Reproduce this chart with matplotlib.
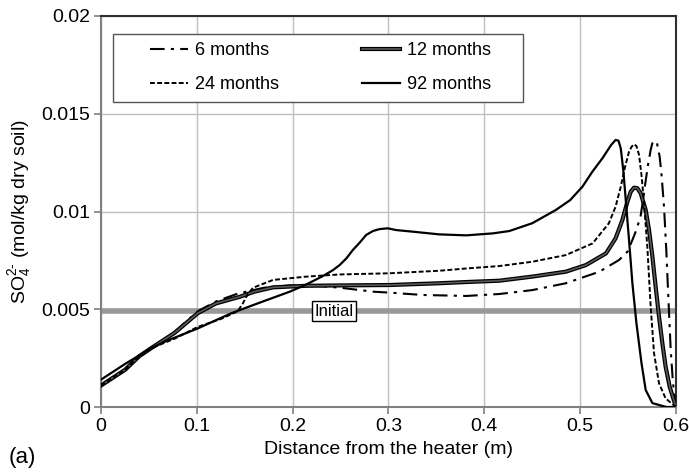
import matplotlib
matplotlib.use("Agg")
import matplotlib.pyplot as plt
import matplotlib.patheffects as pe
from matplotlib.patches import Rectangle

plt.rcParams['font.family'] = ['Liberation Sans', 'DejaVu Sans']
plt.rcParams['mathtext.fontset'] = 'custom'
plt.rcParams['mathtext.rm'] = 'Liberation Sans'
plt.rcParams['mathtext.it'] = 'Liberation Sans:italic'
plt.rcParams['mathtext.bf'] = 'Liberation Sans:bold'

x6 = [0, 0.025, 0.04, 0.052, 0.077, 0.101, 0.12, 0.1427, 0.17, 0.197, 0.225, 0.25, 0.2837, 0.301,
      0.3357, 0.3635, 0.381, 0.4156, 0.45, 0.485, 0.52, 0.5406, 0.5493, 0.5545, 0.558, 0.563, 0.5656,
      0.568, 0.5708, 0.5736, 0.5753, 0.5778, 0.5802, 0.583, 0.5851, 0.5875, 0.5899, 0.592, 0.5945,
      0.5969, 0.6]
y6 = [0.0011, 0.0019, 0.0026, 0.0030, 0.00385, 0.0049, 0.0054, 0.0058, 0.0061, 0.00622, 0.0062, 0.0061,
      0.0059, 0.00585, 0.00573, 0.0057, 0.00568, 0.00578, 0.00598, 0.00633, 0.00692, 0.00752, 0.00794,
      0.00854, 0.00897, 0.00973, 0.01059, 0.01144, 0.01238, 0.01315, 0.01349, 0.01362, 0.01349, 0.0128,
      0.01178, 0.01025, 0.00803, 0.00564, 0.00292, 0.00121, 0.0]

x12 = [0, 0.025, 0.04, 0.052, 0.077, 0.101, 0.12, 0.145, 0.16, 0.1795, 0.2143, 0.25, 0.301, 0.353,
       0.3846, 0.4156, 0.45, 0.485, 0.506, 0.527, 0.537, 0.5441, 0.5493, 0.5528, 0.5562, 0.5597,
       0.5632, 0.5684, 0.5719, 0.5754, 0.5788, 0.5823, 0.5858, 0.5892, 0.5934, 0.6]
y12 = [0.0011, 0.0019, 0.0026, 0.0030, 0.0038, 0.0048, 0.0053, 0.00564, 0.0059, 0.00612, 0.0062,
       0.00622, 0.00624, 0.00633, 0.0064, 0.00646, 0.00667, 0.00692, 0.00726, 0.00786, 0.00863, 0.00957,
       0.0105, 0.01101, 0.01122, 0.01119, 0.01093, 0.01008, 0.00905, 0.00769, 0.00615, 0.00462, 0.00326,
       0.00206, 0.00104, 0.0]

x24 = [0, 0.025, 0.04, 0.052, 0.077, 0.101, 0.125, 0.1427, 0.148, 0.1535, 0.1587, 0.1795, 0.2143, 0.249,
       0.301, 0.353, 0.3846, 0.4156, 0.45, 0.485, 0.513, 0.530, 0.537, 0.5424, 0.5469, 0.551, 0.5538,
       0.5562, 0.5587, 0.5615, 0.5642, 0.5667, 0.5701, 0.5736, 0.5771, 0.5823, 0.5892, 0.6]
y24 = [0.0011, 0.0019, 0.0026, 0.0030, 0.0035, 0.0041, 0.0045, 0.0049, 0.0053, 0.0058, 0.0061, 0.0065,
       0.00667, 0.00678, 0.00684, 0.00697, 0.0071, 0.00721, 0.00743, 0.00777, 0.00837, 0.0094, 0.01025,
       0.01127, 0.01229, 0.01306, 0.01332, 0.01344, 0.01335, 0.01289, 0.01178, 0.01042, 0.0082, 0.00513,
       0.00275, 0.00121, 0.00044, 0.0]

x92 = [0, 0.025, 0.052, 0.0663, 0.101, 0.1357, 0.1635, 0.197, 0.2143, 0.2316, 0.242, 0.249, 0.256,
       0.2628, 0.2698, 0.2767, 0.2837, 0.2906, 0.2993, 0.308, 0.325, 0.353, 0.381, 0.4087, 0.426, 0.45,
       0.4747, 0.4895, 0.5024, 0.5128, 0.5232, 0.5323, 0.537, 0.540, 0.5424, 0.545, 0.5476, 0.551,
       0.5545, 0.5587, 0.564, 0.5684, 0.5754, 0.59, 0.6]
y92 = [0.0014, 0.0022, 0.0030, 0.00334, 0.00402, 0.00479, 0.0053, 0.0059, 0.00627, 0.0067, 0.0070,
       0.00726, 0.0076, 0.00803, 0.0084, 0.0088, 0.0090, 0.0091, 0.00914, 0.00905, 0.00897, 0.00883,
       0.00878, 0.00888, 0.0090, 0.0094, 0.01008, 0.01058, 0.01127, 0.01204, 0.01272, 0.0134, 0.01366,
       0.01362, 0.01323, 0.01212, 0.01059, 0.00854, 0.00634, 0.0043, 0.00225, 0.00087, 0.0002, 0.0, 0.0]

initial_value = 0.0049
x_ticks = [0, 0.1, 0.2, 0.3, 0.4, 0.5, 0.6]
x_ticklabels = ['0', '0.1', '0.2', '0.3', '0.4', '0.5', '0.6']
y_ticks = [0, 0.005, 0.01, 0.015, 0.02]
y_ticklabels = ['0', '0.005', '0.01', '0.015', '0.02']

FS = 14
LFS = 13
fig = plt.figure(figsize=(6.89, 4.73), dpi=100)
ax = fig.add_axes([0.1466, 0.1395, 0.9811 - 0.1466, 0.9662 - 0.1395])

ax.set_xlim(0, 0.6)
ax.set_ylim(0, 0.02)
ax.set_xticks(x_ticks)
ax.set_xticklabels(x_ticklabels, fontsize=FS)
ax.set_yticks(y_ticks)
ax.set_yticklabels(y_ticklabels, fontsize=FS)
ax.grid(True, color='#c0c0c0', linewidth=1.0)
ax.set_axisbelow(True)
ax.tick_params(direction='out', length=5, color='#808080', width=1.2, pad=3)

for s in ['left', 'bottom']:
    ax.spines[s].set_color('#808080')
    ax.spines[s].set_linewidth(1.5)
for s in ['top', 'right']:
    ax.spines[s].set_color('#303030')
    ax.spines[s].set_linewidth(1.5)

ax.axhline(initial_value, color='#999999', linewidth=4, zorder=2)
ax.text(0.2427, initial_value, 'Initial', fontsize=LFS - 1, ha='center', va='center',
        bbox=dict(boxstyle='square,pad=0.15', facecolor='white', edgecolor='black', linewidth=1),
        zorder=6)

l6, = ax.plot(x6, y6, color='black', linewidth=1.5, linestyle=(0, (7, 3, 1.5, 3)), zorder=4,
              label='6 months')
l12, = ax.plot(x12, y12, color='#5a5a5a', linewidth=1.2, zorder=4, label='12 months',
               path_effects=[pe.Stroke(linewidth=3.0, foreground='black'), pe.Normal()])
l24, = ax.plot(x24, y24, color='black', linewidth=1.4, linestyle=(0, (2.5, 1.2)), zorder=4,
               label='24 months')
l92, = ax.plot(x92, y92, color='black', linewidth=1.6, zorder=5, label='92 months')

# legend frame (Excel-style box)
ax.add_patch(Rectangle((0.0209, 0.780), 0.713, 0.174, transform=ax.transAxes, facecolor='white',
                       edgecolor='#555555', linewidth=1.0, zorder=6))
leg = ax.legend(handles=[l6, l24, l12, l92], ncol=2, loc='center left',
                bbox_to_anchor=(0.0852, 0.868), fontsize=LFS, frameon=False,
                handlelength=2.1, handletextpad=0.4, borderaxespad=0, borderpad=0,
                labelspacing=0.95, columnspacing=4.6)
leg.set_zorder(7)

ax.set_xlabel('Distance from the heater (m)', fontsize=FS, labelpad=4)
ax.set_ylabel('SO$_4^{2\\text{-}}$ (mol/kg dry soil)', fontsize=FS, labelpad=6)
fig.text(0.012, 0.032, '(a)', fontsize=FS + 2, ha='left', va='center')

fig.savefig('out.png', dpi=100)
